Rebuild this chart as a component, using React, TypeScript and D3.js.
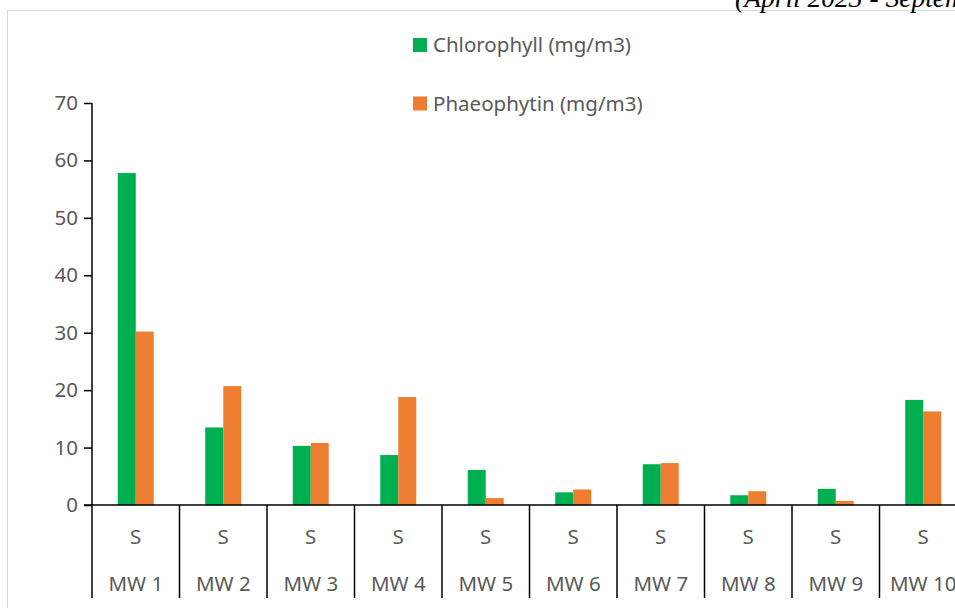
import React, { useRef, useEffect } from "react";
import * as d3 from "d3";

// values
const stations = ["MW 1", "MW 2", "MW 3", "MW 4", "MW 5", "MW 6", "MW 7", "MW 8", "MW 9", "MW 10"];
const season = "S";
const seriesNames = ["Chlorophyll (mg/m3)", "Phaeophytin (mg/m3)"];
const chlorophyll = [57.8, 13.5, 10.3, 8.7, 6.1, 2.2, 7.1, 1.7, 2.8, 18.3];
const phaeophytin = [30.2, 20.7, 10.8, 18.8, 1.2, 2.7, 7.3, 2.4, 0.7, 16.3];
const yTicks = [0, 10, 20, 30, 40, 50, 60, 70];
const colors = ["#00B050", "#ED7D31"];

const width = 955;
const height = 608;
const font = "'Noto Sans', sans-serif";
const fontSize = "20.5px";
const grey = "#595959";

const App = () => {
  const container = useRef(null);

  useEffect(() => {
    const svg = d3.select(container.current);
    svg.selectAll("*").remove();

    // chart area border (light grey, runs off the right/bottom)
    svg
      .append("rect")
      .attr("x", 7.5)
      .attr("y", 10.5)
      .attr("width", 1000)
      .attr("height", 700)
      .attr("fill", "white")
      .attr("stroke", "#d9d9d9");

    // clipped page caption above the chart
    svg
      .append("text")
      .attr("x", 735)
      .attr("y", 7)
      .style("font-family", "'Liberation Serif', serif")
      .style("font-style", "italic")
      .style("font-size", "27.5px")
      .attr("fill", "#000")
      .text("(April 2023 - September 2023)");

    const x0 = 92;
    const bandW = 87.5;
    const xScale = d3
      .scaleBand()
      .domain(stations)
      .range([x0, x0 + bandW * stations.length])
      .padding(0);

    const yScale = d3.scaleLinear().domain([0, 70]).range([505, 103]);

    const data = stations.map((s, i) => ({ station: s, values: [chlorophyll[i], phaeophytin[i]] }));

    // bars
    const groups = svg
      .selectAll(".grp")
      .data(data)
      .enter()
      .append("g")
      .attr("transform", (d) => `translate(${xScale(d.station) + xScale.bandwidth() / 2 - 18}, 0)`);

    const inner = d3.scaleBand().domain(["0", "1"]).range([0, 36]).padding(0);

    groups
      .selectAll("rect")
      .data((d) => d.values)
      .enter()
      .append("rect")
      .attr("x", (d, i) => inner(String(i)))
      .attr("y", (d) => yScale(d))
      .attr("width", inner.bandwidth())
      .attr("height", (d) => yScale(0) - yScale(d))
      .attr("fill", (d, i) => colors[i]);

    // y axis
    const yAxis = svg
      .append("g")
      .attr("transform", `translate(${x0}, 0)`)
      .call(d3.axisLeft(yScale).tickValues(yTicks).tickSize(8).tickPadding(6));
    yAxis.select(".domain").remove();
    yAxis.selectAll("line").attr("stroke", "#000").attr("stroke-width", 1.5);
    yAxis
      .selectAll("text")
      .style("font-family", font)
      .style("font-size", fontSize)
      .attr("fill", grey);

    svg
      .append("line")
      .attr("x1", x0)
      .attr("x2", x0)
      .attr("y1", yScale(70))
      .attr("y2", 598)
      .attr("stroke", "#000")
      .attr("stroke-width", 1.5);

    // x axis baseline
    svg
      .append("line")
      .attr("x1", x0 - 8)
      .attr("x2", width + 20)
      .attr("y1", yScale(0))
      .attr("y2", yScale(0))
      .attr("stroke", "#000")
      .attr("stroke-width", 1.5);

    // category dividers
    svg
      .selectAll(".div")
      .data(stations.slice(1))
      .enter()
      .append("line")
      .attr("x1", (d) => xScale(d))
      .attr("x2", (d) => xScale(d))
      .attr("y1", yScale(0))
      .attr("y2", 598)
      .attr("stroke", "#000")
      .attr("stroke-width", 1.5);

    // category labels
    const cx = (d) => xScale(d) + xScale.bandwidth() / 2;
    svg
      .selectAll(".lvl1")
      .data(stations)
      .enter()
      .append("text")
      .attr("x", cx)
      .attr("y", 544)
      .attr("text-anchor", "middle")
      .style("font-family", font)
      .style("font-size", fontSize)
      .attr("fill", grey)
      .text(season);

    svg
      .selectAll(".lvl2")
      .data(stations)
      .enter()
      .append("text")
      .attr("x", cx)
      .attr("y", 591)
      .attr("text-anchor", "middle")
      .style("font-family", font)
      .style("font-size", fontSize)
      .attr("fill", grey)
      .text((d) => d);

    // legend
    const legend = svg.append("g").attr("transform", "translate(413, 38)");
    legend
      .selectAll("rect")
      .data(seriesNames)
      .enter()
      .append("rect")
      .attr("x", 0)
      .attr("y", (d, i) => i * 58.5)
      .attr("width", 14)
      .attr("height", 14)
      .attr("fill", (d, i) => colors[i]);
    legend
      .selectAll("text")
      .data(seriesNames)
      .enter()
      .append("text")
      .attr("x", 20)
      .attr("y", (d, i) => i * 58.5 + 14)
      .style("font-family", font)
      .style("font-size", fontSize)
      .attr("fill", grey)
      .text((d) => d);
  }, []);

  return (
    <svg
      ref={container}
      width={width}
      height={height}
      style={{ position: "absolute", left: 0, top: 0, display: "block" }}
    />
  );
};

export default App;
